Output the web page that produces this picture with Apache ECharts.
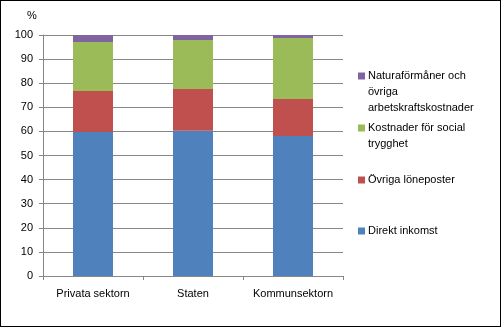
<!DOCTYPE html>
<html>
<head>
<meta charset="utf-8">
<script src="https://cdn.jsdelivr.net/npm/echarts@6/dist/echarts.min.js"></script>
<style>
  html, body { margin: 0; padding: 0; background: #fff; }
  #chart { width: 501px; height: 327px; box-sizing: border-box; border: 1px solid #000; }
</style>
</head>
<body>
<div id="chart"></div>
<script>
// Labour cost structure by sector, per cent of total
const categories = ['Privata sektorn', 'Staten', 'Kommunsektorn'];
const direktInkomst = [59.8, 60.3, 58.1];
const ovrigaLoneposter = [17.0, 17.3, 15.3];
const socialTrygghet = [20.3, 20.3, 25.4];
const naturaformaner = [2.9, 2.1, 1.2];
const yTicks = [0, 10, 20, 30, 40, 50, 60, 70, 80, 90, 100];

const names = {
  direkt: 'Direkt inkomst',
  ovriga: 'Övriga löneposter',
  social: 'Kostnader för social\ntrygghet',
  natura: 'Naturaförmåner och\növriga\narbetskraftskostnader'
};
const colors = {
  direkt: '#4F81BD',
  ovriga: '#C0504D',
  social: '#9BBB59',
  natura: '#8064A2'
};

const font = 'Liberation Sans, Arial, sans-serif';
const lineH = 16;

// Legend drawn as swatch + text blocks, swatch aligned with the first line
function legendEntry(key, centerY) {
  return [
    {
      type: 'rect',
      left: 357,
      top: centerY - 3.5,
      shape: { width: 7, height: 7 },
      style: { fill: colors[key] },
      silent: true
    },
    {
      type: 'text',
      left: 367,
      top: centerY - lineH / 2,
      style: {
        text: names[key],
        font: '11px ' + font,
        fill: '#000',
        lineHeight: lineH
      },
      silent: true
    }
  ];
}

function barSeries(key, values) {
  return {
    name: names[key],
    type: 'bar',
    stack: 'total',
    barWidth: '40%',
    itemStyle: { color: colors[key] },
    data: values
  };
}

const chart = echarts.init(document.getElementById('chart'), null, { renderer: 'canvas' });
chart.setOption({
  animation: false,
  backgroundColor: '#fff',
  grid: { left: 42, right: 157, top: 34, bottom: 50, containLabel: false },
  graphic: [
    {
      type: 'text',
      left: 26,
      top: 9,
      style: { text: '%', font: '11px ' + font, fill: '#000' }
    },
    ...legendEntry('natura', 75),
    ...legendEntry('social', 127),
    ...legendEntry('ovriga', 179),
    ...legendEntry('direkt', 230)
  ],
  xAxis: {
    type: 'category',
    data: categories,
    axisLine: { lineStyle: { color: '#868686', width: 1 } },
    axisTick: { show: true, length: 4, lineStyle: { color: '#868686' } },
    axisLabel: { interval: 0, fontFamily: font, fontSize: 11, color: '#000', margin: 12 }
  },
  yAxis: {
    type: 'value',
    min: yTicks[0],
    max: yTicks[yTicks.length - 1],
    interval: yTicks[1] - yTicks[0],
    axisLine: { show: true, lineStyle: { color: '#868686' } },
    axisTick: { show: true, length: 4, lineStyle: { color: '#868686' } },
    axisLabel: { fontFamily: font, fontSize: 11, color: '#000', margin: 10 },
    splitLine: { lineStyle: { color: '#868686', width: 1 } }
  },
  series: [
    barSeries('direkt', direktInkomst),
    barSeries('ovriga', ovrigaLoneposter),
    barSeries('social', socialTrygghet),
    barSeries('natura', naturaformaner)
  ]
});
</script>
</body>
</html>
